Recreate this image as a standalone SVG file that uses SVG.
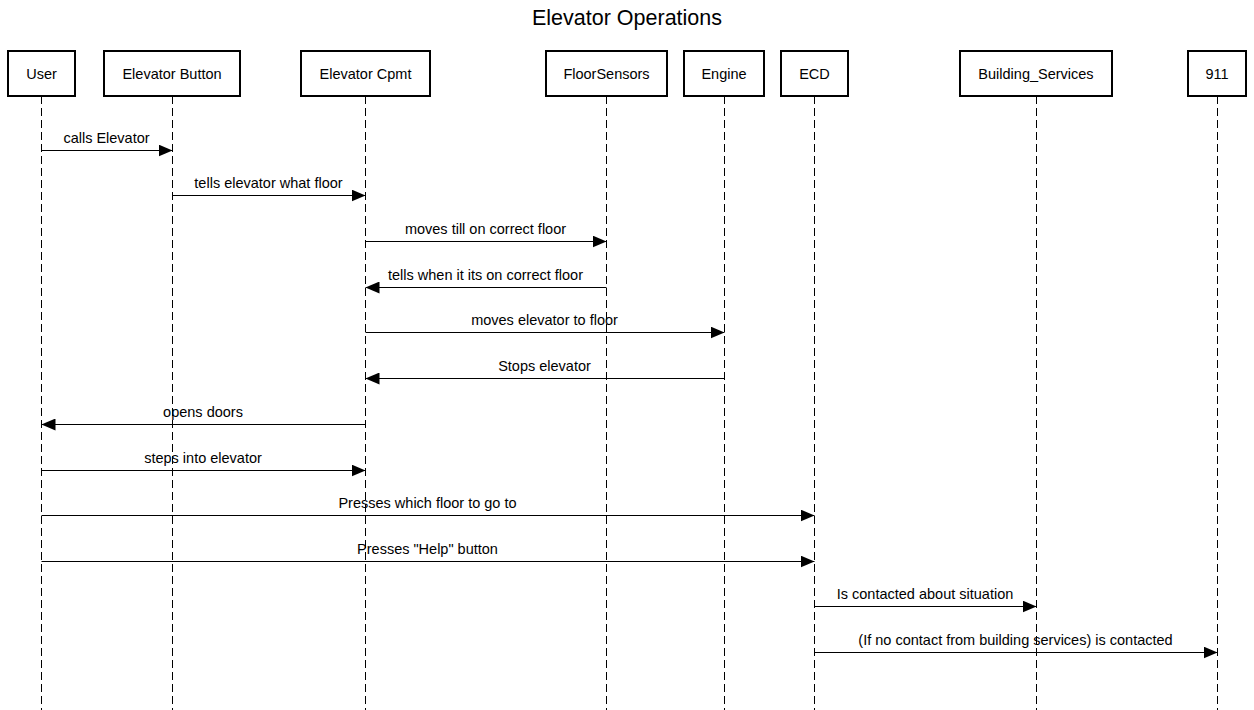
<svg xmlns="http://www.w3.org/2000/svg" width="1254" height="710" viewBox="0 0 1254 710">
<defs>
<style>
text{font-family:"Liberation Sans",Arial,sans-serif;fill:#000}
.title{font-size:21.5px;text-anchor:middle}
.box{fill:#fff;stroke:#000;stroke-width:2}
.name{font-size:14.5px;text-anchor:middle}
.life{stroke:#000;stroke-width:1;stroke-dasharray:8 4;fill:none}
.msg{stroke:#000;stroke-width:1;fill:none;marker-end:url(#ah)}
.lbl{font-size:14.5px;text-anchor:middle}
</style>
<marker id="ah" viewBox="0 0 14 12" refX="14" refY="6" markerWidth="14" markerHeight="12" markerUnits="userSpaceOnUse" orient="auto">
<path d="M0,0 L14,6 L0,12 Z" fill="#000"/>
</marker>
</defs>
<rect width="1254" height="710" fill="#fff"/>
<text class="title" x="627" y="25">Elevator Operations</text>

<g id="lifelines">
<line class="life" x1="41.5" y1="96" x2="41.5" y2="710"/>
<line class="life" x1="172.5" y1="96" x2="172.5" y2="710"/>
<line class="life" x1="365.5" y1="96" x2="365.5" y2="710"/>
<line class="life" x1="606.5" y1="96" x2="606.5" y2="710"/>
<line class="life" x1="724.5" y1="96" x2="724.5" y2="710"/>
<line class="life" x1="814.5" y1="96" x2="814.5" y2="710"/>
<line class="life" x1="1036.5" y1="96" x2="1036.5" y2="710"/>
<line class="life" x1="1217.5" y1="96" x2="1217.5" y2="710"/>
</g>

<g id="user"><rect class="box" x="8" y="51" width="67" height="45"/><text class="name" x="41.5" y="79">User</text></g>
<g id="button"><rect class="box" x="104" y="51" width="136" height="45"/><text class="name" x="172" y="79">Elevator Button</text></g>
<g id="cpmt"><rect class="box" x="301" y="51" width="129" height="45"/><text class="name" x="365.5" y="79">Elevator Cpmt</text></g>
<g id="floorsensors"><rect class="box" x="546" y="51" width="121" height="45"/><text class="name" x="606.5" y="79">FloorSensors</text></g>
<g id="engine"><rect class="box" x="684" y="51" width="80" height="45"/><text class="name" x="724" y="79">Engine</text></g>
<g id="ecd"><rect class="box" x="781" y="51" width="67" height="45"/><text class="name" x="814.5" y="79">ECD</text></g>
<g id="building_services"><rect class="box" x="960" y="51" width="152" height="45"/><text class="name" x="1036" y="79">Building_Services</text></g>
<g id="n911"><rect class="box" x="1188" y="51" width="58" height="45"/><text class="name" x="1217" y="79">911</text></g>

<g id="connectors">
<line class="msg" x1="41.5" y1="150.5" x2="172.5" y2="150.5"/>
<text class="lbl" x="106.5" y="143">calls Elevator</text>
<line class="msg" x1="172.5" y1="195.5" x2="365.5" y2="195.5"/>
<text class="lbl" x="268.5" y="188">tells elevator what floor</text>
<line class="msg" x1="365.5" y1="241.5" x2="606.5" y2="241.5"/>
<text class="lbl" x="485.5" y="234">moves till on correct floor</text>
<line class="msg" x1="606.5" y1="287.5" x2="365.5" y2="287.5"/>
<text class="lbl" x="485.5" y="280">tells when it its on correct floor</text>
<line class="msg" x1="365.5" y1="332.5" x2="724.5" y2="332.5"/>
<text class="lbl" x="544.5" y="325">moves elevator to floor</text>
<line class="msg" x1="724.5" y1="378.5" x2="365.5" y2="378.5"/>
<text class="lbl" x="544.5" y="371">Stops elevator</text>
<line class="msg" x1="365.5" y1="424.5" x2="41.5" y2="424.5"/>
<text class="lbl" x="203" y="417">opens doors</text>
<line class="msg" x1="41.5" y1="470.5" x2="365.5" y2="470.5"/>
<text class="lbl" x="203" y="463">steps into elevator</text>
<line class="msg" x1="41.5" y1="515.5" x2="814.5" y2="515.5"/>
<text class="lbl" x="427.5" y="508">Presses which floor to go to</text>
<line class="msg" x1="41.5" y1="561.5" x2="814.5" y2="561.5"/>
<text class="lbl" x="427.5" y="554">Presses "Help" button</text>
<line class="msg" x1="814.5" y1="606.5" x2="1036.5" y2="606.5"/>
<text class="lbl" x="925" y="599">Is contacted about situation</text>
<line class="msg" x1="814.5" y1="652.5" x2="1217.5" y2="652.5"/>
<text class="lbl" x="1015.5" y="645">(If no contact from building services) is contacted</text>
</g>
</svg>
